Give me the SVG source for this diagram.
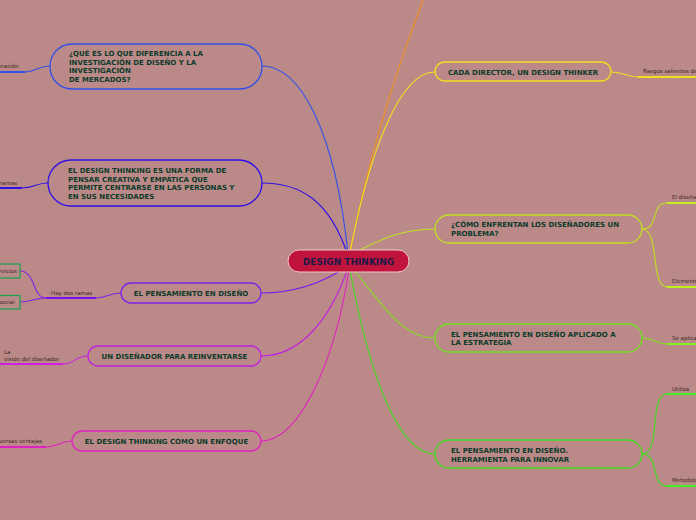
<svg xmlns="http://www.w3.org/2000/svg" width="696" height="520" viewBox="0 0 696 520">
<style>
.t{font-family:"DejaVu Sans",Verdana,sans-serif;font-weight:bold;font-size:7px;fill:#0b3a2a}
.c{text-anchor:middle}
.l{font-family:"DejaVu Sans",Verdana,sans-serif;font-size:5.5px;fill:#3a2626}
.n{fill:none;stroke-width:1.3}
.e{fill:none;stroke-width:1.1}
.u{fill:none;stroke-width:2}
</style>
<rect width="696" height="520" fill="#bb8a88"/>
<g id="connectors">
<path class="e" stroke="#f09020" d="M350 252 C370 150 400 60 425 -5"/>
<path class="e" stroke="#3050e8" d="M348 254 C335 130 300 66 262 66"/>
<path class="e" stroke="#3010e8" d="M348 256 C330 200 300 183 262 183"/>
<path class="e" stroke="#8020e8" d="M348 266 C320 285 290 293 261 293"/>
<path class="e" stroke="#c020e0" d="M348 268 C330 320 300 356 261 356"/>
<path class="e" stroke="#e020c0" d="M349 270 C335 360 300 441 261 441"/>
<path class="e" stroke="#f0e020" d="M350 252 C370 150 400 72 435 72"/>
<path class="e" stroke="#c0e020" d="M352 254 C380 240 400 229 435 229"/>
<path class="e" stroke="#80e020" d="M352 268 C380 300 400 338 435 338"/>
<path class="e" stroke="#40e020" d="M350 270 C370 380 400 454 435 454"/>
<path class="e" stroke="#3050e8" d="M50 66 C38 66 36 72 25 72"/>
<path class="u" stroke="#3050e8" d="M0 72 H25"/>
<path class="e" stroke="#3010e8" d="M48 183 C36 183 34 188 22 188"/>
<path class="u" stroke="#3010e8" d="M0 188 H22"/>
<path class="e" stroke="#8020e8" d="M121 293 C108 293 108 298 96 298"/>
<path class="u" stroke="#8010f0" d="M46 298 H96"/>
<path class="e" stroke="#8020e8" d="M46 298 C32 298 36 271 20 271"/>
<path class="e" stroke="#8020e8" d="M46 298 C34 298 32 302 20 302"/>
<path class="e" stroke="#c020e0" d="M88 356 C75 356 75 364 63 364"/>
<path class="u" stroke="#d020e0" d="M0 364 H63"/>
<path class="e" stroke="#e020c0" d="M72 441 C60 441 58 447 46 447"/>
<path class="u" stroke="#e020c0" d="M0 447 H46"/>
<path class="e" stroke="#f0e020" d="M611 72 C625 72 625 77 638 77"/>
<path class="u" stroke="#f0e020" d="M638 77 H696"/>
<path class="e" stroke="#c0e020" d="M642 229 C660 229 650 203 667 203"/>
<path class="e" stroke="#c0e020" d="M642 229 C660 229 650 287 667 287"/>
<path class="u" stroke="#c0f020" d="M667 203 H696 M667 287 H696"/>
<path class="e" stroke="#80e020" d="M642 338 C656 338 654 344 667 344"/>
<path class="u" stroke="#80f020" d="M667 344 H696"/>
<path class="e" stroke="#40e020" d="M642 454 C662 454 648 394 667 394"/>
<path class="e" stroke="#40e020" d="M642 454 C660 454 650 486 667 486"/>
<path class="u" stroke="#40f020" d="M667 394 H696 M667 486 H696"/>
</g>
<g id="center">
<rect x="288" y="250" width="121" height="22" rx="11" fill="#c0143c" stroke="#f0c8c8" stroke-width="1"/>
<text class="t c" x="348.5" y="264.5" style="font-size:9px;fill:#1a1a4a">DESIGN THINKING</text>
</g>
<g id="n1">
<rect class="n" x="50" y="44" width="212" height="45" rx="22" stroke="#3050e8"/>
<text class="t" x="69" y="56">¿QUÉ ES LO QUE DIFERENCIA A LA</text>
<text class="t" x="69" y="65">INVESTIGACIÓN DE DISEÑO Y LA</text>
<text class="t" x="69" y="73">INVESTIGACIÓN</text>
<text class="t" x="69" y="82">DE MERCADOS?</text>
<text class="l" x="-1" y="68">inación</text>
</g>
<g id="n2">
<rect class="n" x="48" y="160" width="214" height="46" rx="23" stroke="#3010e8"/>
<text class="t" x="68" y="173">EL DESIGN THINKING ES UNA FORMA DE</text>
<text class="t" x="68" y="182">PENSAR CREATIVA Y EMPÁTICA QUE</text>
<text class="t" x="68" y="190">PERMITE CENTRARSE EN LAS PERSONAS Y</text>
<text class="t" x="68" y="199">EN SUS NECESIDADES</text>
<text class="l" x="0" y="185">ramas</text>
</g>
<g id="n3">
<rect class="n" x="121" y="283" width="140" height="20" rx="10" stroke="#8020e8"/>
<text class="t c" x="191" y="296">EL PENSAMIENTO EN DISEÑO</text>
<text class="l" x="51" y="295">Hay dos ramas</text>
</g>
<g id="n3a">
<rect x="-4" y="264" width="24" height="14" fill="none" stroke="#20a050" stroke-width="1.3"/>
<text class="l" x="-1" y="273">rvicios</text>
</g>
<g id="n3b">
<rect x="-4" y="295.5" width="24" height="13.5" fill="none" stroke="#20a050" stroke-width="1.3"/>
<text class="l" x="-1" y="304">social</text>
</g>
<g id="n4">
<rect class="n" x="88" y="346" width="173" height="20" rx="10" stroke="#c020e0"/>
<text class="t c" x="174.5" y="359">UN DISEÑADOR PARA REINVENTARSE</text>
<text class="l" x="4" y="354">La</text>
<text class="l" x="4" y="361">visión del diseñador</text>
</g>
<g id="n5">
<rect class="n" x="72" y="431" width="189" height="20" rx="10" stroke="#e020c0"/>
<text class="t c" x="166.5" y="444">EL DESIGN THINKING COMO UN ENFOQUE</text>
<text class="l" x="-1" y="443">versas ventajas</text>
</g>
<g id="n6">
<rect class="n" x="435" y="62" width="176" height="19" rx="9.5" stroke="#f0e020"/>
<text class="t c" x="523" y="74.5">CADA DIRECTOR, UN DESIGN THINKER</text>
<text class="l" x="643" y="73">Rasgos salientes de</text>
</g>
<g id="n7">
<rect class="n" x="435" y="215" width="207" height="28" rx="14" stroke="#c0e020"/>
<text class="t" x="451" y="227">¿CÓMO ENFRENTAN LOS DISEÑADORES UN</text>
<text class="t" x="451" y="236">PROBLEMA?</text>
<text class="l" x="672" y="199">El diseñador</text>
<text class="l" x="672" y="283">Elementos</text>
</g>
<g id="n8">
<rect class="n" x="435" y="324" width="207" height="28" rx="14" stroke="#70e020"/>
<text class="t" x="451" y="337">EL PENSAMIENTO EN DISEÑO APLICADO A</text>
<text class="t" x="451" y="345">LA ESTRATEGIA</text>
<text class="l" x="672" y="340">Se aplica</text>
</g>
<g id="n9">
<rect class="n" x="435" y="440" width="207" height="28" rx="14" stroke="#40e020"/>
<text class="t" x="451" y="453">EL PENSAMIENTO EN DISEÑO.</text>
<text class="t" x="451" y="462">HERRAMIENTA PARA INNOVAR</text>
<text class="l" x="672" y="391">Utiliza</text>
<text class="l" x="672" y="482">Metodología</text>
</g>
</svg>
